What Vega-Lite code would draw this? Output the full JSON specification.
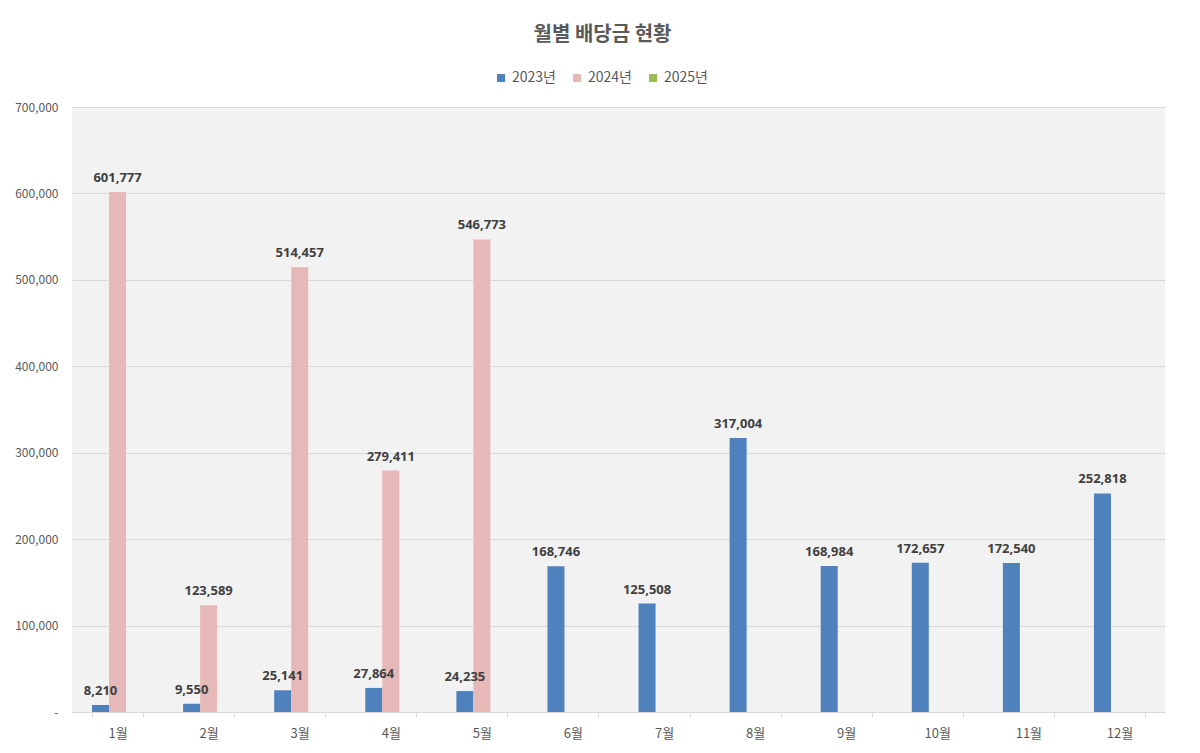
{
  "$schema": "https://vega.github.io/schema/vega-lite/v6.json",
  "autosize": "none",
  "width": 1093,
  "height": 605,
  "padding": {"left": 72, "top": 107, "right": 35, "bottom": 41},
  "background": "white",
  "title": {
    "text": "월별 배당금 현황",
    "font": "Noto Sans CJK KR",
    "fontSize": 20,
    "fontWeight": "bold",
    "color": "#595959",
    "anchor": "middle",
    "frame": "group",
    "dx": -16,
    "offset": 26
  },
  "config": {
    "view": {"fill": "#f2f2f2", "stroke": null},
    "font": "Noto Sans CJK KR"
  },
  "data": {
    "values": [
      {"month": "1월", "year": "2023년", "value": 8210},
      {"month": "2월", "year": "2023년", "value": 9550},
      {"month": "3월", "year": "2023년", "value": 25141},
      {"month": "4월", "year": "2023년", "value": 27864},
      {"month": "5월", "year": "2023년", "value": 24235},
      {"month": "6월", "year": "2023년", "value": 168746},
      {"month": "7월", "year": "2023년", "value": 125508},
      {"month": "8월", "year": "2023년", "value": 317004},
      {"month": "9월", "year": "2023년", "value": 168984},
      {"month": "10월", "year": "2023년", "value": 172657},
      {"month": "11월", "year": "2023년", "value": 172540},
      {"month": "12월", "year": "2023년", "value": 252818},
      {"month": "1월", "year": "2024년", "value": 601777},
      {"month": "2월", "year": "2024년", "value": 123589},
      {"month": "3월", "year": "2024년", "value": 514457},
      {"month": "4월", "year": "2024년", "value": 279411},
      {"month": "5월", "year": "2024년", "value": 546773}
    ]
  },
  "encoding": {
    "x": {
      "field": "month",
      "type": "nominal",
      "sort": ["1월","2월","3월","4월","5월","6월","7월","8월","9월","10월","11월","12월"],
      "scale": {"paddingInner": 0.44, "paddingOuter": 0.22},
      "axis": {
        "title": null,
        "labelAngle": 0,
        "labelFontSize": 13,
        "labelColor": "#595959",
        "labelPadding": 10,
        "domainColor": "#d9d9d9",
        "tickColor": "#d9d9d9",
        "tickSize": 5,
        "tickBand": "extent",
        "grid": false
      }
    },
    "xOffset": {
      "field": "year",
      "type": "nominal",
      "scale": {"domain": ["2023년", "2024년", "2025년"]}
    },
    "y": {
      "field": "value",
      "type": "quantitative",
      "scale": {"domain": [0, 700000], "nice": false},
      "axis": {
        "title": null,
        "values": [0, 100000, 200000, 300000, 400000, 500000, 600000, 700000],
        "labelExpr": "datum.value === 0 ? '-' : format(datum.value, ',')",
        "labelFontSize": 12,
        "labelColor": "#595959",
        "labelPadding": 14,
        "domain": false,
        "ticks": false,
        "grid": true,
        "gridColor": "#d9d9d9",
        "gridWidth": 1
      }
    }
  },
  "layer": [
    {
      "mark": {"type": "bar"},
      "encoding": {
        "color": {
          "field": "year",
          "type": "nominal",
          "scale": {
            "domain": ["2023년", "2024년", "2025년"],
            "range": ["#4f81bd", "#e6b9b8", "#9bbb59"]
          },
          "legend": {
            "title": null,
            "orient": "none",
            "legendX": 422,
            "legendY": -36,
            "direction": "horizontal",
            "symbolType": "square",
            "symbolSize": 64,
            "symbolStrokeWidth": 0,
            "labelFontSize": 14,
            "labelColor": "#595959",
            "columnPadding": 14,
            "labelOffset": 4
          }
        }
      }
    },
    {
      "mark": {
        "type": "text",
        "dy": -14,
        "fontSize": 13,
        "fontWeight": "bold",
        "color": "#404040",
        "font": "Open Sans"
      },
      "encoding": {
        "text": {"field": "value", "type": "quantitative", "format": ","}
      }
    }
  ]
}
